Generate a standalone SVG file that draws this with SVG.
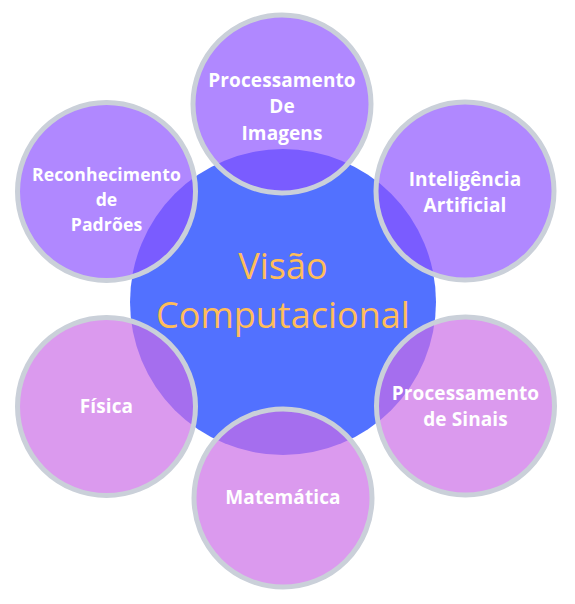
<svg xmlns="http://www.w3.org/2000/svg" width="575" height="604" viewBox="0 0 575 604">
<style>
.sat{stroke:#cad0d9;stroke-width:5}
.p1{fill:#8c52ff;fill-opacity:0.69}
.p2{fill:#cb6ce6;fill-opacity:0.69}
.lbl{font-family:"Open Sans",sans-serif;font-weight:bold;font-size:19px;fill:#ffffff;text-anchor:middle;letter-spacing:0.1px}
.sm{font-size:17.6px}
.ctr{font-family:"Open Sans",sans-serif;font-size:36px;fill:#ffbd59;text-anchor:middle}
</style>
<rect width="575" height="604" fill="#ffffff"/>
<g id="center">
<circle cx="283" cy="302" r="153" fill="#5271ff"/>
<text class="ctr" x="283" y="279">Visão</text>
<text class="ctr" x="283" y="328">Computacional</text>
</g>
<g id="connectors"></g>
<g id="processamento-imagens">
<circle class="sat p1" cx="282" cy="104" r="89"/>
<text class="lbl" x="282" y="87">Processamento</text>
<text class="lbl" x="282" y="113">De</text>
<text class="lbl" x="282" y="140">Imagens</text>
</g>
<g id="inteligencia-artificial">
<circle class="sat p1" cx="465" cy="191" r="89"/>
<text class="lbl" x="465" y="186">Inteligência</text>
<text class="lbl" x="465" y="212">Artificial</text>
</g>
<g id="reconhecimento-padroes">
<circle class="sat p1" cx="106.5" cy="191.5" r="89"/>
<text class="lbl sm" x="106.5" y="181">Reconhecimento</text>
<text class="lbl sm" x="106.5" y="206">de</text>
<text class="lbl sm" x="106.5" y="231">Padrões</text>
</g>
<g id="fisica">
<circle class="sat p2" cx="106.5" cy="406.5" r="89"/>
<text class="lbl" x="106.5" y="413">Física</text>
</g>
<g id="processamento-sinais">
<circle class="sat p2" cx="465.5" cy="406" r="89"/>
<text class="lbl" x="465.5" y="400">Processamento</text>
<text class="lbl" x="465.5" y="426">de Sinais</text>
</g>
<g id="matematica">
<circle class="sat p2" cx="283" cy="498" r="89"/>
<text class="lbl" x="283" y="504">Matemática</text>
</g>
</svg>
